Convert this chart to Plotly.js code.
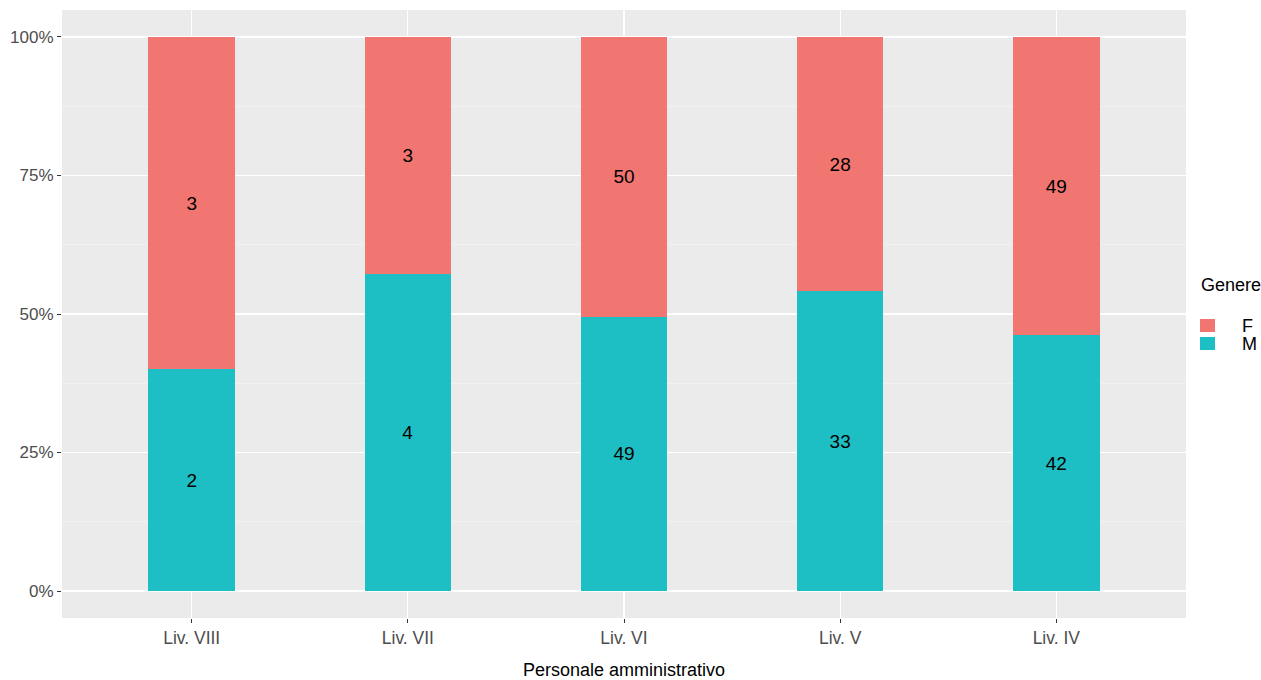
<!DOCTYPE html>
<html><head><meta charset="utf-8">
<script src="https://cdn.plot.ly/plotly-3.0.1.min.js"></script>
<style>html,body{margin:0;padding:0;background:#fff}#c{width:1261px;height:680px}</style>
</head><body><div id="c"></div>
<script>
const categories = ["Liv. VIII", "Liv. VII", "Liv. VI", "Liv. V", "Liv. IV"];
const countM = [2, 4, 49, 33, 42];
const countF = [3, 3, 50, 28, 49];
const yTicks = [0, 0.25, 0.5, 0.75, 1];
const yTickLabels = ["0%", "25%", "50%", "75%", "100%"];
const seriesNames = ["F", "M"];
const seriesColors = {F: "#F17570", M: "#1EBFC4"};

const font = "Liberation Sans, Arial, sans-serif";
const W = 1261, H = 680, ML = 62, MR = 75, MT = 10, MB = 62;
const PW = W - ML - MR, PH = H - MT - MB;
const px = x => (x - ML) / PW;
const py = y => (H - MB - y) / PH;

const common = {
  type: "bar", x: categories, textposition: "inside", insidetextanchor: "middle",
  textfont: {family: font, size: 19, color: "#000"}, hoverinfo: "x+y+name",
  constraintext: "none", showlegend: false
};
const traces = [
  Object.assign({}, common, {name: "M", y: countM, text: countM.map(String), marker: {color: seriesColors.M, line: {width: 0}}}),
  Object.assign({}, common, {name: "F", y: countF, text: countF.map(String), marker: {color: seriesColors.F, line: {width: 0}}})
];

// legend drawn manually (ggplot style)
const shapes = [];
const annotations = [{
  xref: "paper", yref: "paper", x: px(1199), y: py(285), xanchor: "left", yanchor: "middle",
  text: "Genere", showarrow: false, font: {family: font, size: 18, color: "#000"}
}];
seriesNames.forEach((n, i) => {
  const top = 319 + i * 18;
  shapes.push({type: "rect", xref: "paper", yref: "paper", x0: px(1200), x1: px(1215), y0: py(top + 13), y1: py(top),
    fillcolor: seriesColors[n], line: {width: 0}});
  annotations.push({xref: "paper", yref: "paper", x: px(1240), y: py(top + 7), xanchor: "left", yanchor: "middle",
    text: n, showarrow: false, font: {family: font, size: 18, color: "#000"}});
});

const layout = {
  width: W, height: H,
  margin: {l: ML, r: MR, t: MT, b: MB},
  barmode: "stack", barnorm: "fraction", bargap: 0.6,
  paper_bgcolor: "#fff", plot_bgcolor: "#EBEBEB",
  font: {family: font, size: 17, color: "#4D4D4D"},
  xaxis: {
    range: [-0.6, 4.6], showgrid: true, gridcolor: "#fff", gridwidth: 1.2,
    ticks: "outside", ticklen: 4, tickcolor: "#333", tickfont: {size: 17.5, color: "#4D4D4D"},
    title: {text: "Personale amministrativo", font: {size: 18, color: "#000"}, standoff: 18},
    zeroline: false, linecolor: "rgba(0,0,0,0)"
  },
  yaxis: {
    range: [-0.0487, 1.0487], tickvals: yTicks, ticktext: yTickLabels,
    showgrid: true, gridcolor: "#fff", gridwidth: 1.2,
    ticks: "outside", ticklen: 4, tickcolor: "#333", tickfont: {size: 17, color: "#4D4D4D"},
    minor: {tickvals: [0.125, 0.375, 0.625, 0.875], showgrid: true, gridcolor: "#F5F5F5", gridwidth: 0.6, ticks: ""},
    zeroline: false
  },
  shapes: shapes,
  annotations: annotations,
  showlegend: false
};
Plotly.newPlot("c", traces, layout, {displayModeBar: false, staticPlot: true});
</script></body></html>
